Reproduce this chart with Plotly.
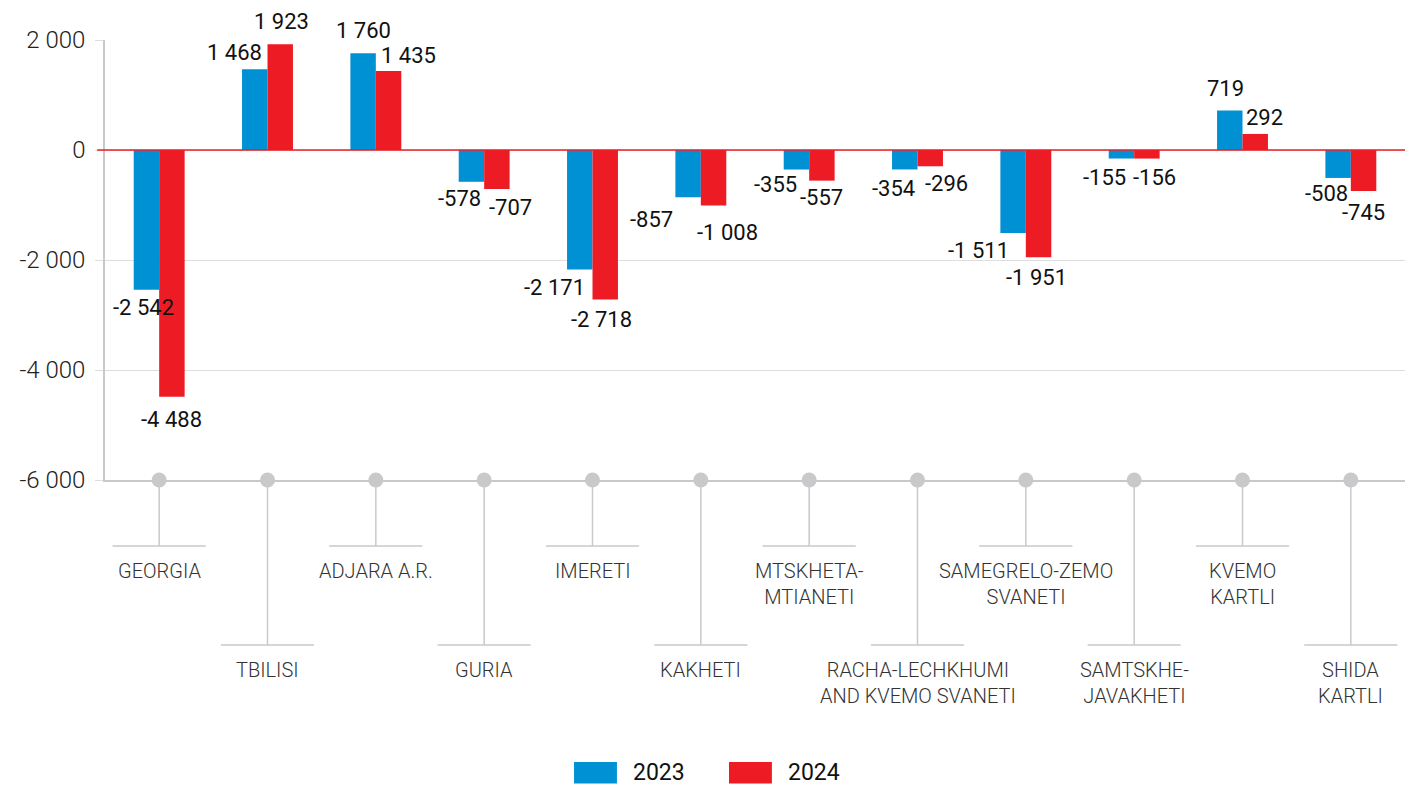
import plotly.graph_objects as go

categories = ["GEORGIA", "TBILISI", "ADJARA A.R.", "GURIA", "IMERETI", "KAKHETI",
              "MTSKHETA-<br>MTIANETI", "RACHA-LECHKHUMI<br>AND KVEMO SVANETI",
              "SAMEGRELO-ZEMO<br>SVANETI", "SAMTSKHE-<br>JAVAKHETI", "KVEMO<br>KARTLI",
              "SHIDA<br>KARTLI"]
values_2023 = [-2542, 1468, 1760, -578, -2171, -857, -355, -354, -1511, -155, 719, -508]
values_2024 = [-4488, 1923, 1435, -707, -2718, -1008, -557, -296, -1951, -156, 292, -745]
tick_vals = [-6000, -4000, -2000, 0, 2000]

# label offsets (px) relative to bar centre / bar end
dx_2023 = [-3, -20, 0, -12, -25, -37, -21, -11, -35, -17, -4, -12]
dy_2023 = [18, -17, -23, 17, 18, 22, 15, 19, 17, 19, -22, 16]
dx_2024 = [0, 1, 20, 14, -4, 14, 0, 16, -2, 8, 9, 0]
dy_2024 = [23, -23, -16, 19, 20, 27, 17, 17, 20, 19, -16, 22]

BLUE = "#0091d5"
RED = "#ed1c24"
GREY = "#c9c9cc"
FONT = "Roboto, sans-serif"

def fmt(v):
    return f"{v:,}".replace(",", " ")

keys = [c.replace("<br>", " ") for c in categories]

fig = go.Figure()
fig.add_trace(go.Bar(x=keys, y=values_2023, name="2023", marker_color=BLUE,
                     marker_line_width=0, showlegend=False))
fig.add_trace(go.Bar(x=keys, y=values_2024, name="2024", marker_color=RED,
                     marker_line_width=0, showlegend=False))
fig.add_trace(go.Scatter(x=keys, y=[tick_vals[0]] * len(keys), mode="markers",
                         marker=dict(size=15, color=GREY), cliponaxis=False,
                         showlegend=False, hoverinfo="skip"))

half = 12.8
anns = []
for i, k in enumerate(keys):
    anns.append(dict(x=k, y=values_2023[i], text=fmt(values_2023[i]), showarrow=False,
                     xshift=-half + dx_2023[i], yshift=-dy_2023[i],
                     font=dict(family=FONT, size=22, color="#111")))
    anns.append(dict(x=k, y=values_2024[i], text=fmt(values_2024[i]), showarrow=False,
                     xshift=half + dx_2024[i], yshift=-dy_2024[i],
                     font=dict(family=FONT, size=22, color="#111")))

shapes = []
for i, c in enumerate(categories):
    low = (i % 2 == 1)
    yb = -0.375 if low else -0.15
    shapes.append(dict(type="line", xref="x", yref="paper", x0=i, x1=i, y0=0, y1=yb,
                       line=dict(color=GREY, width=1.5), layer="below"))
    shapes.append(dict(type="line", xref="x", yref="paper", x0=i - 0.43, x1=i + 0.43,
                       y0=yb, y1=yb, line=dict(color=GREY, width=1.5)))
    anns.append(dict(x=i, xref="x", yref="paper", y=yb - 0.025, yanchor="top",
                     text=c, showarrow=False, align="center",
                     font=dict(family=FONT, size=20, color="#333", weight=300)))

# zero line
shapes.append(dict(type="line", xref="paper", yref="y", x0=-0.006, x1=1, y0=0, y1=0,
                   line=dict(color=RED, width=1.5), layer="above"))

# legend
for (x0, x1, col, lab) in [(0.3608, 0.3938, BLUE, "2023"), (0.48, 0.513, RED, "2024")]:
    shapes.append(dict(type="rect", xref="paper", yref="paper", x0=x0, x1=x1,
                       y0=-0.641, y1=-0.690, fillcolor=col, line_width=0))
    anns.append(dict(xref="paper", yref="paper", x=x1 + 0.011, y=-0.6655, xanchor="left",
                     yanchor="middle", text=lab, showarrow=False,
                     font=dict(family=FONT, size=23, color="#111")))

fig.update_layout(
    width=1410, height=785,
    margin=dict(l=105, r=5, t=40, b=305),
    paper_bgcolor="white", plot_bgcolor="white",
    barmode="group", bargap=0.53, bargroupgap=0,
    showlegend=False,
    annotations=anns, shapes=shapes,
    xaxis=dict(showticklabels=False, showgrid=False, zeroline=False,
               showline=True, linecolor=GREY, linewidth=1.5, ticks="",
               range=[-0.5, len(keys) - 0.5], layer="below traces"),
    yaxis=dict(range=[-6000, 2000], tickvals=tick_vals,
               ticktext=[fmt(v) for v in tick_vals],
               showgrid=True, gridcolor="#dedede", gridwidth=1.2,
               zeroline=False, showline=True, linecolor=GREY, linewidth=1.5,
               ticks="outside", ticklen=8, tickcolor="#dedede", tickwidth=1.2,
               tickfont=dict(family=FONT, size=24, color="#222", weight=300),
               ticklabelstandoff=5, automargin=False, layer="below traces"),
)

fig.write_html("out.html", config={"displayModeBar": False},
               post_script="document.body.style.margin='0';document.body.style.padding='0';")
